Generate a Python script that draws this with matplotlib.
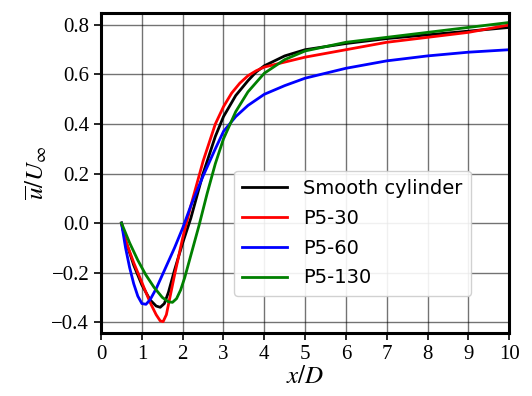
import matplotlib
matplotlib.use("Agg")
import matplotlib.pyplot as plt

# Mittlere Geschwindigkeit hinter dem Zylinder
x_smooth = [0.5, 0.6, 0.8, 1.0, 1.2, 1.35, 1.45, 1.55, 1.65, 1.8, 2.0, 2.2, 2.5, 2.8, 3.0, 3.3, 3.6, 3.8, 4.0, 4.5, 5, 6, 7, 8, 9, 10]
u_smooth = [0, -0.07, -0.17, -0.25, -0.31, -0.335, -0.34, -0.325, -0.28, -0.19, -0.08, 0.02, 0.20, 0.35, 0.43, 0.515, 0.575, 0.61, 0.635, 0.675, 0.70, 0.725, 0.745, 0.76, 0.775, 0.79]

x_p30 = [0.5, 0.6, 0.8, 1.0, 1.2, 1.35, 1.45, 1.52, 1.6, 1.7, 1.8, 2.0, 2.2, 2.5, 2.8, 3.0, 3.2, 3.4, 3.6, 3.8, 4.0, 4.5, 5, 6, 7, 8, 9, 10]
u_p30 = [0, -0.07, -0.16, -0.24, -0.32, -0.37, -0.395, -0.398, -0.37, -0.29, -0.21, -0.06, 0.07, 0.25, 0.40, 0.47, 0.525, 0.565, 0.595, 0.615, 0.63, 0.65, 0.67, 0.70, 0.73, 0.75, 0.77, 0.80]

x_p60 = [0.5, 0.6, 0.7, 0.8, 0.9, 1.0, 1.1, 1.2, 1.35, 1.5, 1.8, 2.0, 2.2, 2.5, 2.8, 3.0, 3.3, 3.6, 4.0, 4.5, 5, 6, 7, 8, 9, 10]
u_p60 = [0, -0.10, -0.18, -0.245, -0.295, -0.325, -0.328, -0.31, -0.265, -0.21, -0.10, -0.02, 0.07, 0.19, 0.30, 0.37, 0.43, 0.475, 0.52, 0.555, 0.585, 0.625, 0.655, 0.675, 0.69, 0.70]

x_p130 = [0.5, 0.7, 0.9, 1.1, 1.3, 1.5, 1.65, 1.75, 1.85, 1.95, 2.05, 2.2, 2.4, 2.6, 2.8, 3.0, 3.3, 3.6, 4.0, 4.5, 5, 6, 7, 8, 9, 10]
u_p130 = [0, -0.08, -0.15, -0.21, -0.26, -0.30, -0.318, -0.32, -0.305, -0.27, -0.22, -0.13, -0.01, 0.12, 0.24, 0.34, 0.45, 0.53, 0.605, 0.66, 0.695, 0.73, 0.75, 0.77, 0.79, 0.81]

plt.rcParams['mathtext.fontset'] = 'stix'

fig = plt.figure(figsize=(5.32, 3.96), dpi=100)
ax = fig.add_axes([0.19, 0.159, 0.767, 0.808])

ax.plot(x_smooth, u_smooth, color='black', lw=2, label='Smooth cylinder')
ax.plot(x_p30, u_p30, color='red', lw=2, label='P5-30')
ax.plot(x_p60, u_p60, color='blue', lw=2, label='P5-60')
ax.plot(x_p130, u_p130, color='green', lw=2, label='P5-130')

ax.set_xlim(0, 10)
ax.set_ylim(-0.444, 0.848)
ax.set_xticks(range(0, 11))
ax.set_yticks([-0.4, -0.2, 0.0, 0.2, 0.4, 0.6, 0.8])
ax.set_yticklabels(['\u22120.4', '\u22120.2', '0.0', '0.2', '0.4', '0.6', '0.8'])
for lab in ax.get_xticklabels() + ax.get_yticklabels():
    lab.set_fontfamily('Liberation Serif')
    lab.set_fontsize(15)
ax.tick_params(direction='out', length=5, width=1.2, colors='black')
ax.grid(True, color='black', alpha=0.55, lw=1)
for sp in ax.spines.values():
    sp.set_linewidth(2.2)

ax.set_xlabel('$x/D$', fontsize=18, labelpad=0)
ax.set_ylabel(r'$\overline{u}/U_\infty$', fontsize=18, labelpad=2)

ax.legend(loc='lower right', bbox_to_anchor=(0.93, 0.085), fontsize=14,
          handlelength=2.3, borderpad=0.45, labelspacing=0.55, framealpha=0.9)

fig.savefig('out.png', dpi=100)
